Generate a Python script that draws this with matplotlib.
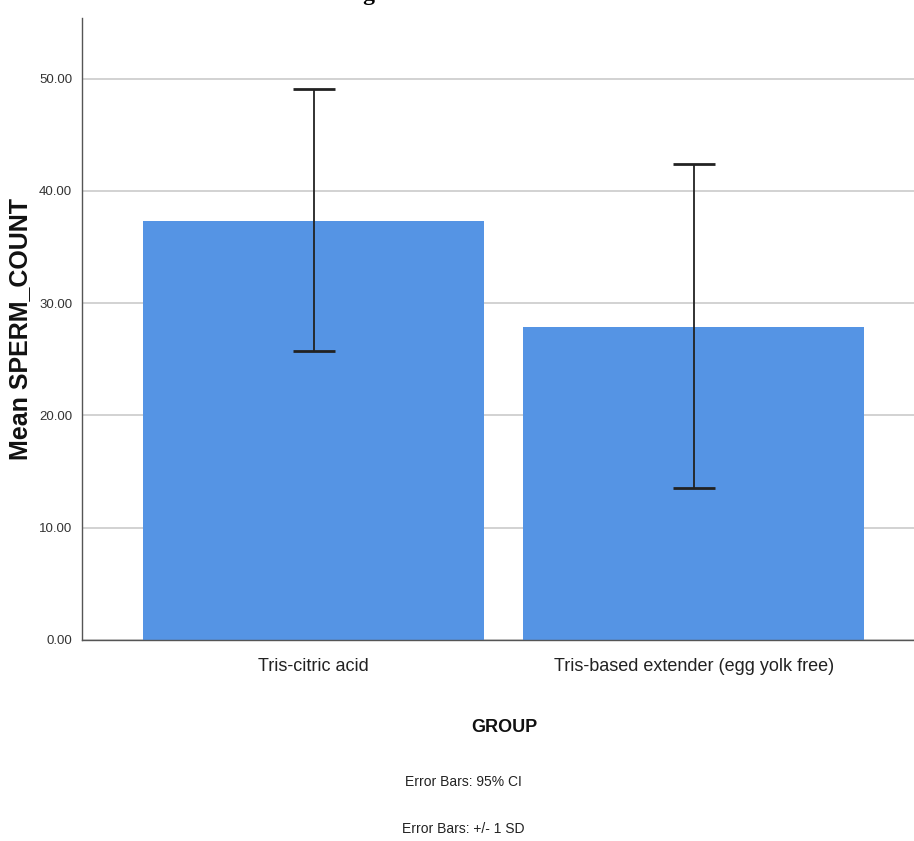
import matplotlib

matplotlib.use("Agg")
import matplotlib.pyplot as plt
import numpy as np

# data
groups = ["Tris-citric acid", "Tris-based extender (egg yolk free)"]
means = [37.35, 27.9]
err_hi = [49.1, 42.4]
err_lo = [25.7, 13.5]
yticks = [0, 10, 20, 30, 40, 50]

BAR = "#5594E4"
GRID = "#CBCBCB"
NARROW = ["Liberation Sans Narrow", "Liberation Sans", "DejaVu Sans"]
SANS = ["Liberation Sans", "DejaVu Sans"]

W, H = 914, 841
fig = plt.figure(figsize=(W / 100, H / 100), dpi=100, facecolor="white")
ax = fig.add_axes([82 / W, 1 - 640 / H, 1 - 82 / W, (640 - 18) / H])

x = np.arange(len(groups))
means = np.array(means)
lo = means - np.array(err_lo)
hi = np.array(err_hi) - means

ax.bar(x, means, width=0.897, color=BAR, zorder=2)
ax.errorbar(x, means, yerr=[lo, hi], fmt="none", ecolor="#222222",
            elinewidth=1.3, capsize=15, capthick=2, zorder=3)

ax.set_xlim(-0.61, 1.58)
ax.set_ylim(0, 55.4)
ax.set_yticks(yticks)
ax.set_yticklabels([f"{v:.2f}" for v in yticks], family=NARROW, fontsize=9.5,
                   color="#333333")
ax.set_xticks(x)
ax.set_xticklabels(groups, family=NARROW, fontsize=13, color="#222222")
ax.tick_params(axis="both", length=0)
ax.tick_params(axis="x", pad=13)
ax.tick_params(axis="y", pad=7)

ax.grid(axis="y", color=GRID, linewidth=1.2, zorder=0)
ax.set_axisbelow(True)
for side in ("top", "right"):
    ax.spines[side].set_visible(False)
for side in ("left", "bottom"):
    ax.spines[side].set_color("#555555")
    ax.spines[side].set_linewidth(1)

ax.set_ylabel("Mean SPERM_COUNT", family=SANS, fontsize=18, fontweight="bold",
              color="#111111")
ax.yaxis.set_label_coords(-50 / (W - 82), 0.5)

fig.text(504 / W, 1 - 727 / H, "GROUP", family=NARROW, fontsize=13,
         fontweight="bold", ha="center", va="center", color="#111111")
fig.text(463 / W, 1 - 782 / H, "Error Bars: 95% CI", family=NARROW,
         fontsize=10, ha="center", va="center", color="#222222")
fig.text(463 / W, 1 - 829 / H, "Error Bars: +/- 1 SD", family=NARROW,
         fontsize=10, ha="center", va="center", color="#222222")

# title clipped by the top edge, as in the reference image
fig.text(437 / W, 1.0, "Figures and Tables",
         family=["Liberation Serif", "DejaVu Serif"],
         fontsize=17, fontweight="bold", ha="center", va="baseline")

fig.savefig("out.png", dpi=100, facecolor="white")
